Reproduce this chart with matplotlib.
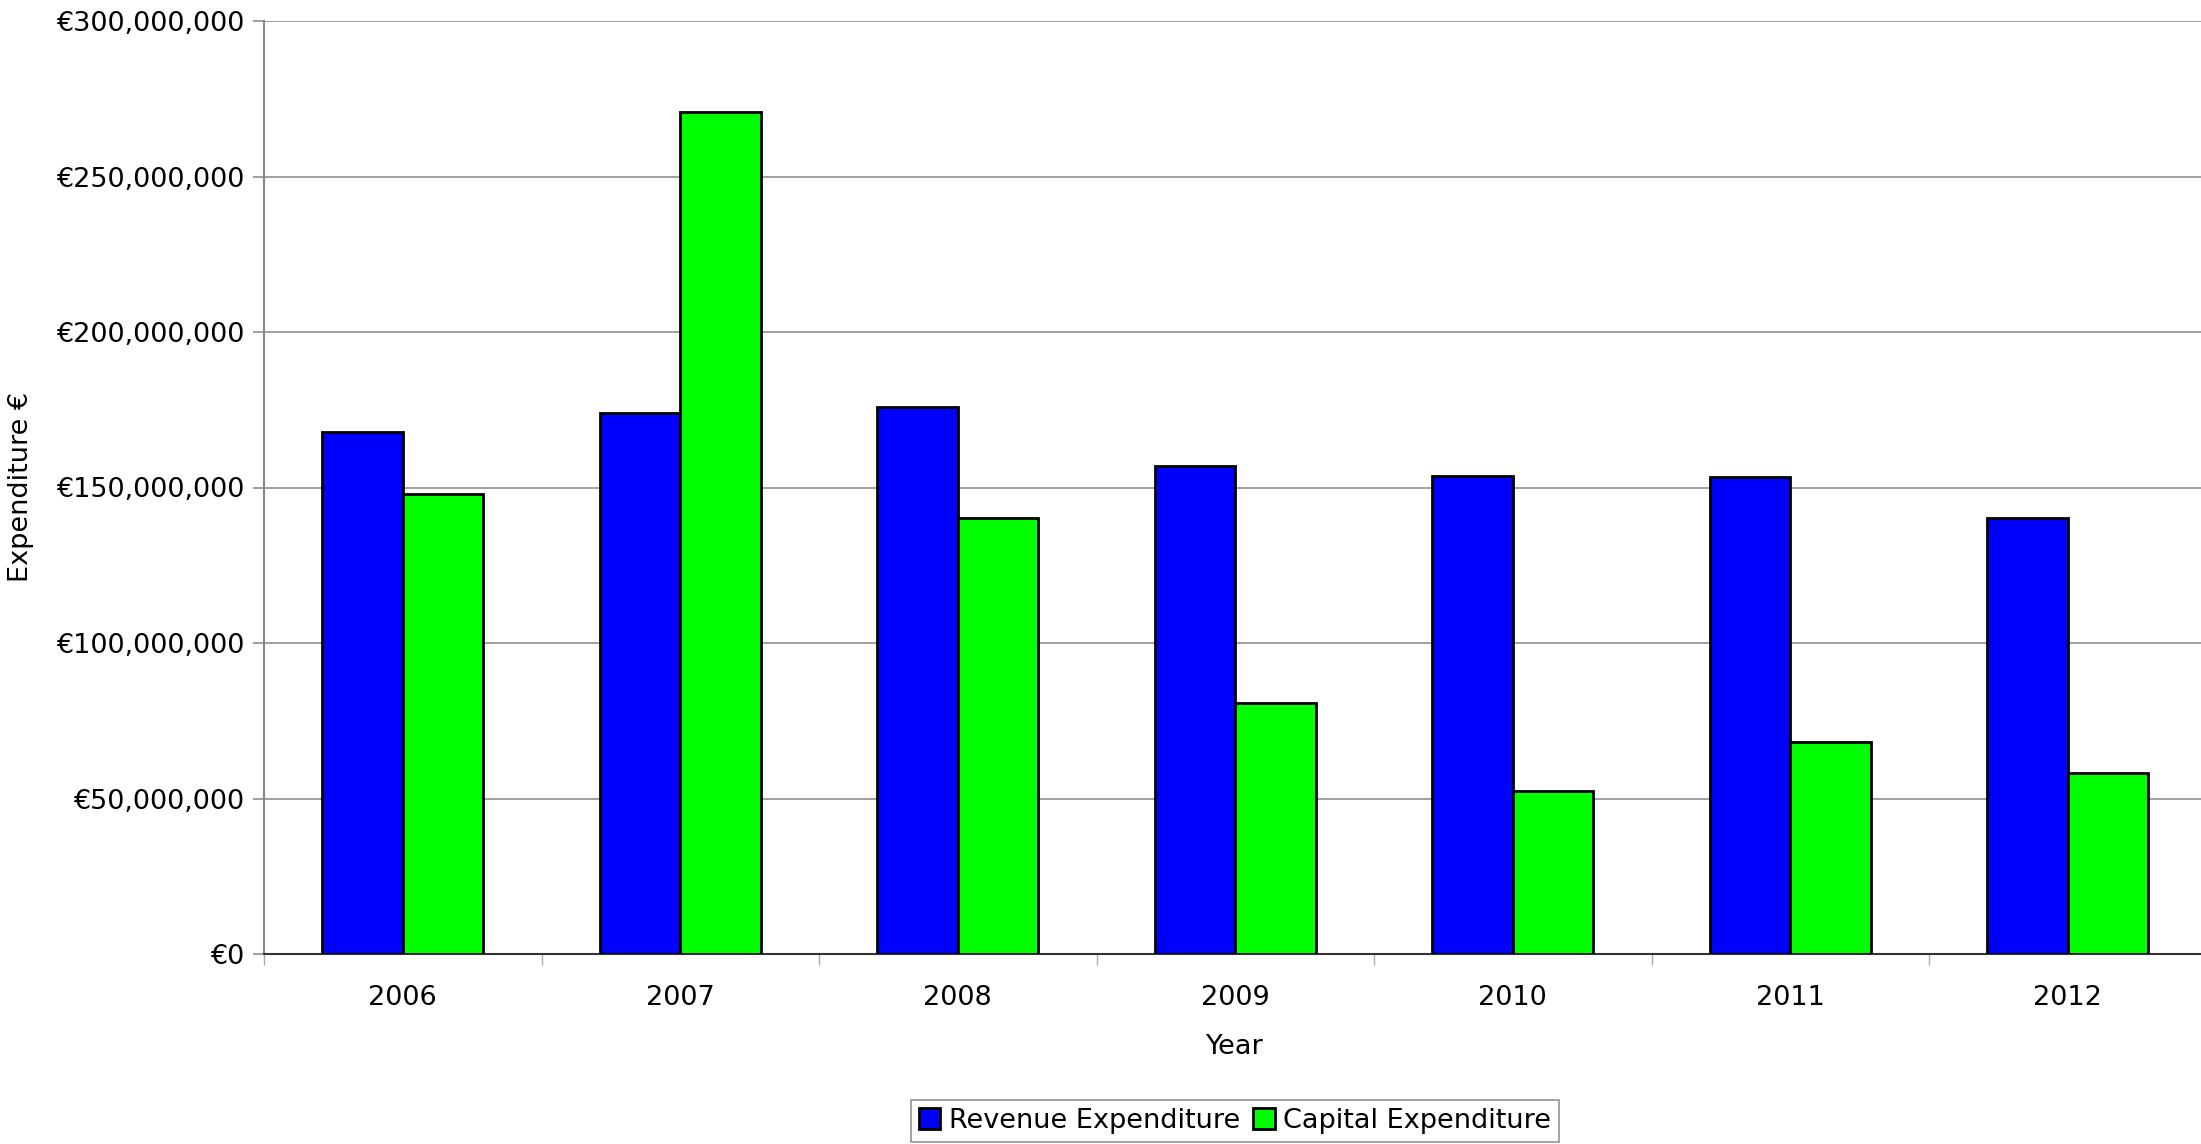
import numpy as np
import matplotlib
matplotlib.use("Agg")
import matplotlib.pyplot as plt
from matplotlib.ticker import FuncFormatter, MultipleLocator, FixedLocator

years = ["2006", "2007", "2008", "2009", "2010", "2011", "2012"]
revenue = [167.8e6, 174.1e6, 175.9e6, 157.0e6, 153.8e6, 153.4e6, 140.3e6]
capital = [148.0e6, 270.7e6, 140.3e6, 80.8e6, 52.3e6, 68.1e6, 58.2e6]
series_names = ["Revenue Expenditure", "Capital Expenditure"]

plt.rcParams['font.family'] = ['DejaVu Sans']
FS = 19.5

W, H = 2201, 1144
fig = plt.figure(figsize=(W / 100, H / 100), dpi=100)
left, bottom, top = 264, 954, 21
right = left + 7 * 277.5
ax = fig.add_axes([left / W, 1 - bottom / H, (right - left) / W, (bottom - top) / H])

x = np.arange(len(years))
bw = 0.29
ax.bar(x - bw / 2, revenue, bw, color="#0000ff", edgecolor="black", linewidth=2,
       label=series_names[0], zorder=3)
ax.bar(x + bw / 2, capital, bw, color="#00ff00", edgecolor="black", linewidth=2,
       label=series_names[1], zorder=3)

ax.set_xlim(-0.5, len(years) - 0.5)
ax.set_ylim(0, 300e6)
ax.yaxis.set_major_locator(MultipleLocator(50e6))
ax.yaxis.set_major_formatter(FuncFormatter(lambda v, p: "€{:,.0f}".format(v)))
ax.grid(axis="y", color="#999999", linewidth=1.3, zorder=0)

ax.set_xticks(x)
ax.set_xticklabels(years)
ax.xaxis.set_minor_locator(FixedLocator(np.arange(-0.5, len(years), 1.0)))
ax.tick_params(axis="x", which="major", length=0, pad=22, labelsize=FS)
ax.tick_params(axis="x", which="minor", length=8, color="#aaaaaa", width=1)
ax.tick_params(axis="y", length=8, color="#999999", width=1.3, labelsize=FS, pad=6)

for s in ["top", "right"]:
    ax.spines[s].set_visible(False)
ax.spines["left"].set_color("#888888")
ax.spines["left"].set_linewidth(1.5)
ax.spines["bottom"].set_color("#333333")
ax.spines["bottom"].set_linewidth(1.5)

fig.text(21 / W, 1 - 487 / H, "Expenditure €", rotation=90, ha="center", va="center", fontsize=FS)
fig.text(1235 / W, 1 - 1047 / H, "Year", ha="center", va="center", fontsize=FS)

leg = fig.legend(loc="center", bbox_to_anchor=(1235 / W, 1 - 1121 / H), ncol=2,
                 fontsize=FS, frameon=True, fancybox=False, edgecolor="#777777",
                 handlelength=0.8, handleheight=0.8, handletextpad=0.3,
                 columnspacing=0.5, borderpad=0.3)
leg.get_frame().set_linewidth(1.2)

fig.savefig("out.png", dpi=100, facecolor="white")
